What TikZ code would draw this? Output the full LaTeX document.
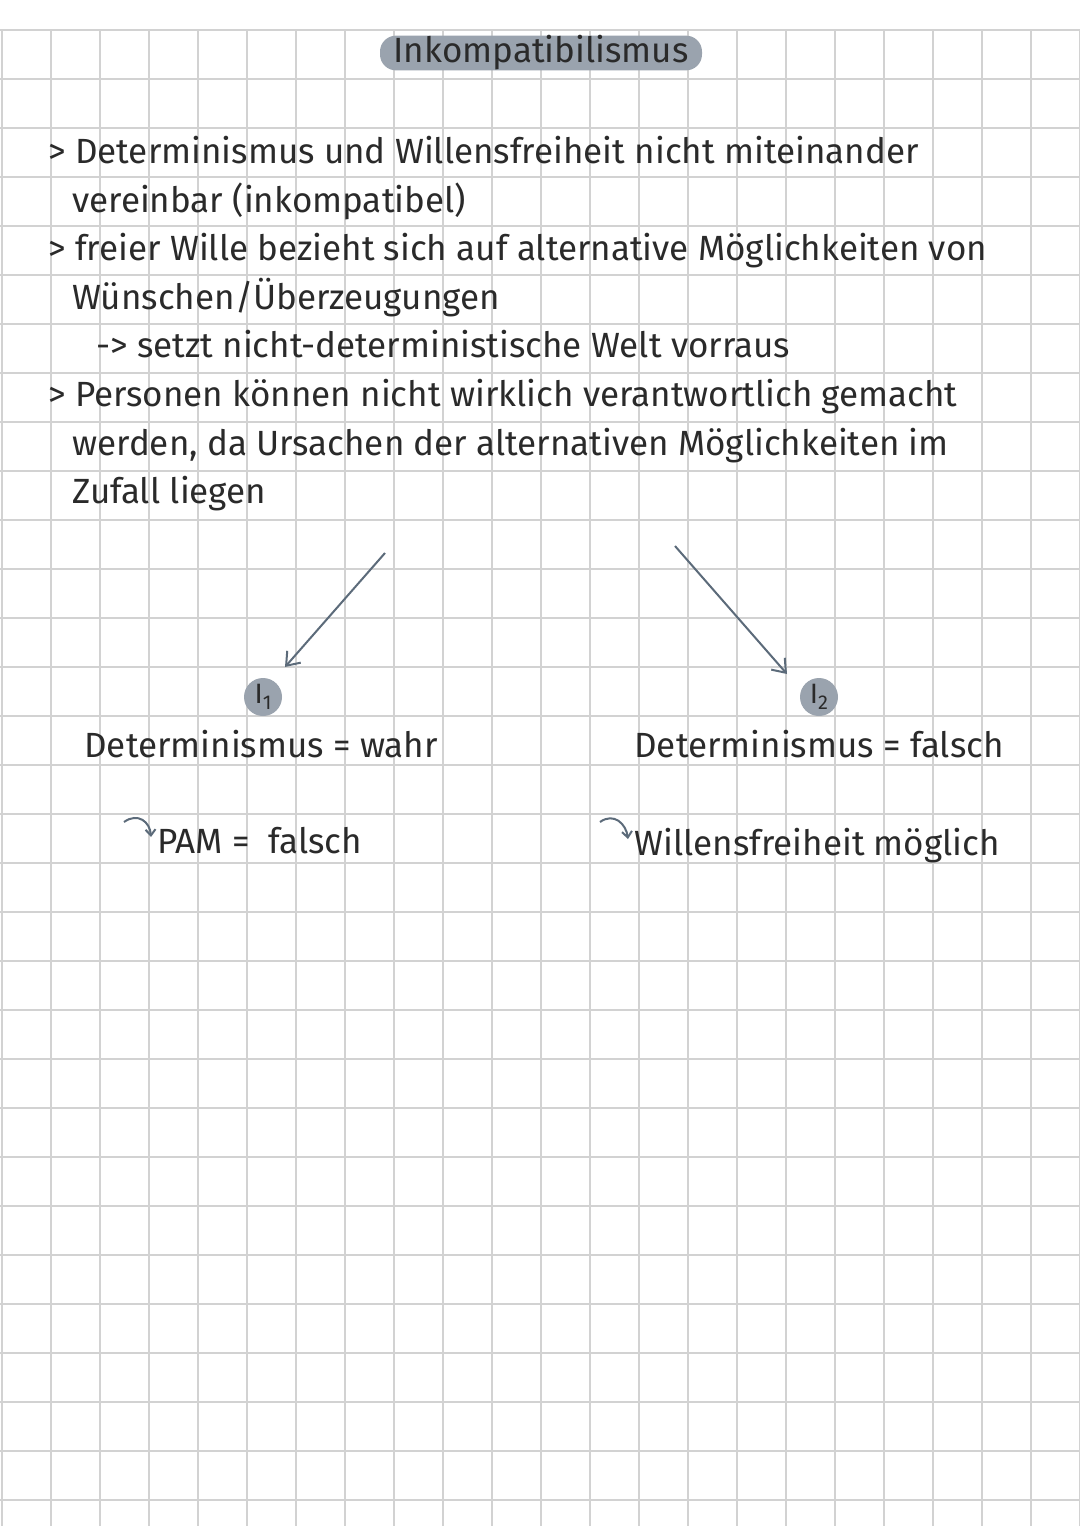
\documentclass[tikz,border=0pt]{standalone}
\usepackage{fontspec}
\setmainfont{Fira Sans}
\usetikzlibrary{arrows.meta}
\definecolor{gridgray}{HTML}{D2D2D2}
\definecolor{pillgray}{HTML}{9AA3AE}
\definecolor{arrowgray}{HTML}{5C6B7A}
\definecolor{inkgray}{HTML}{2A2A2A}
\newcommand{\isub}[1]{I\raisebox{-3pt}{\fontsize{10}{10}\selectfont #1}}
\tikzset{
  line/.style={anchor=base west, inner sep=0pt, text=inkgray, font=\fontsize{17.5}{20}\selectfont},
  mark circ/.style={circle, fill=pillgray, minimum size=19pt, inner sep=0pt, text=inkgray, font=\fontsize{14}{16}\selectfont},
  link/.style={draw=arrowgray, line width=1pt, -{Straight Barb[length=6pt,width=9pt]}},
  hook/.style={draw=arrowgray, line width=1pt, -{Straight Barb[length=3pt,width=5pt]}}
}
\begin{document}
\begin{tikzpicture}[x=0.5pt,y=-0.5pt]
    \useasboundingbox (0,0) rectangle (1080,1526);
    \fill[white] (0,0) rectangle (1080,1526);
    % grid
    \foreach \i in {0,...,22} \draw[gridgray, line width=0.6pt] (2+\i*49,30) -- (2+\i*49,1526);
    \foreach \j in {0,...,30} \draw[gridgray, line width=0.6pt] (0,30+\j*49) -- (1080,30+\j*49);
    % title
    \node[fill=pillgray, rounded corners=8pt, minimum width=161pt, minimum height=16pt, inner sep=0pt,
          text=inkgray, font=\fontsize{17.5}{20}\selectfont] (title) at (541,53) {Inkompatibilismus};
    % bullets
    \node[line] (b1) at (48,163) {> Determinismus und Willensfreiheit nicht miteinander};
    \node[line] (b1b) at (72,212) {vereinbar (inkompatibel)};
    \node[line] (b2) at (48,260) {> freier Wille bezieht sich auf alternative Möglichkeiten von};
    \node[line] (b2b) at (72,309) {Wünschen/Überzeugungen};
    \node[line] (b2c) at (96,357) {-> setzt nicht-deterministische Welt vorraus};
    \node[line] (b3) at (48,406) {> Personen können nicht wirklich verantwortlich gemacht};
    \node[line] (b3b) at (72,455) {werden, da Ursachen der alternativen Möglichkeiten im};
    \node[line] (b3c) at (72,503) {Zufall liegen};
    % branches
    \coordinate (s1) at (385,553);
    \coordinate (e1) at (285,667);
    \coordinate (s2) at (675,546);
    \coordinate (e2) at (787,674);
    \draw[link] (s1) -- (e1);
    \draw[link] (s2) -- (e2);
    \node[mark circ] (i1) at (263,697) {\isub{1}};
    \node[mark circ] (i2) at (819,697) {\isub{2}};
    \node[line] (d1) at (84,757) {Determinismus = wahr};
    \node[line] (d2) at (634,757) {Determinismus = falsch};
    \node[line] (p1) at (157,853) {PAM =\; falsch};
    \node[line] (p2) at (634,855) {Willensfreiheit möglich};
    \coordinate (h1) at (124,822);
    \coordinate (h2) at (600,822);
    \draw[hook] (h1) .. controls (138,812) and (150,822) .. ([xshift=-3pt,yshift=8pt]p1.base west);
    \draw[hook] (h2) .. controls (614,812) and (626,824) .. ([xshift=-3pt,yshift=8pt]p2.base west);
\end{tikzpicture}
\end{document}
